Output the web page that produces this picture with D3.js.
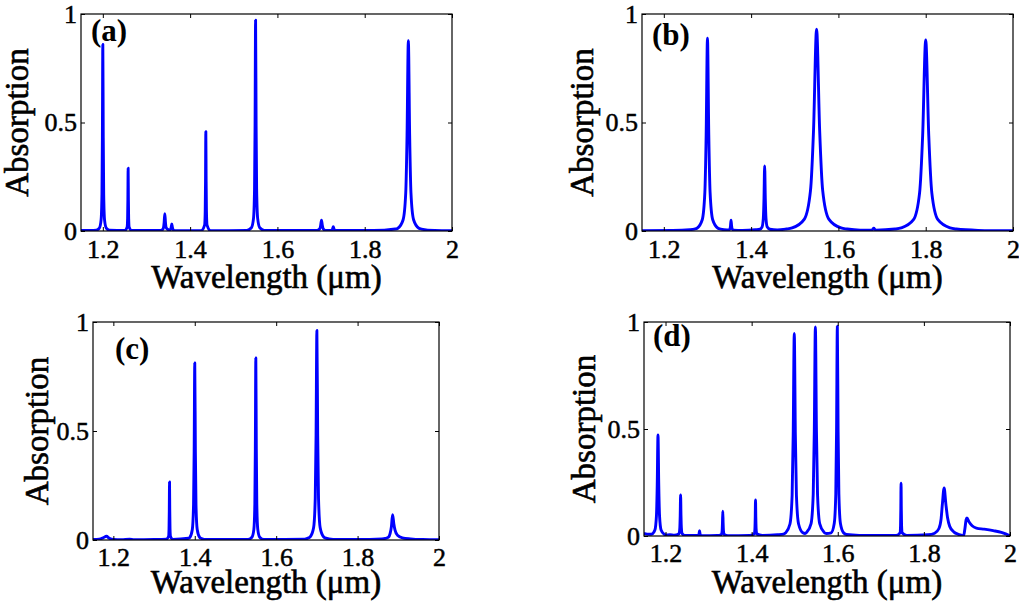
<!DOCTYPE html>
<html>
<head>
<meta charset="utf-8">
<script src="https://cdn.jsdelivr.net/npm/d3@7"></script>
<style>
  body { margin: 0; background: #fff; }
  svg { display: block; }
</style>
</head>
<body>
<svg id="fig" width="1019" height="604"></svg>
<script>
// tick values / labels shared by all four panels
var xTicks = [1.2, 1.4, 1.6, 1.8, 2];
var xTickLabels = ["1.2", "1.4", "1.6", "1.8", "2"];
var yTicks = [0, 0.5, 1];
var yTickLabels = ["0", "0.5", "1"];
var panelNames = ["(a)", "(b)", "(c)", "(d)"];
var xTitle = "Wavelength (\u03bcm)";
var yTitle = "Absorption";

// spectra: [wavelength (um), absorption]
var spectrumA = [
  [1.15,0.002],[1.185,0.004],[1.192,0.013],[1.196,0.05],[1.198,0.17],[1.199,0.43],[1.2,0.86],[1.201,0.43],[1.202,0.17],[1.204,0.05],[1.208,0.013],[1.215,0.004],
  [1.25,0.002],[1.2556,0.017],[1.2568,0.058],[1.2574,0.145],[1.258,0.289],[1.2586,0.145],[1.2592,0.058],[1.2604,0.017],[1.266,0.002],
  [1.33,0.002],[1.336,0.005],[1.339,0.016],[1.3405,0.04],[1.342,0.08],[1.3435,0.04],[1.345,0.016],[1.348,0.008],
  [1.352,0.005],[1.355,0.0064],[1.3565,0.016],[1.358,0.032],[1.3595,0.016],[1.361,0.0064],[1.364,0.002],[1.37,0.001],
  [1.425,0.001],[1.4332,0.027],[1.4346,0.092],[1.4353,0.229],[1.436,0.458],[1.4367,0.229],[1.4374,0.092],[1.4388,0.027],[1.447,0.001],
  [1.53,0.003],[1.5404,0.015],[1.5452,0.057],[1.5476,0.194],[1.5488,0.486],[1.55,0.972],[1.5512,0.486],[1.5524,0.194],[1.5548,0.057],[1.5596,0.015],[1.57,0.003],
  [1.69,0.002],[1.697,0.01],[1.699,0.025],[1.701,0.05],[1.703,0.025],[1.705,0.01],[1.71,0.003],
  [1.722,0.002],[1.725,0.004],[1.7265,0.01],[1.728,0.02],[1.7295,0.01],[1.731,0.004],[1.74,0.002],
  [1.82,0.002],[1.87,0.009],[1.876,0.013],[1.888,0.052],[1.894,0.175],[1.897,0.44],[1.9,0.877],[1.903,0.44],[1.906,0.175],[1.912,0.052],[1.924,0.013],[1.93,0.009],[1.96,0.002],[2.0,0.001]
];
var spectrumB = [
  [1.15,0.001],[1.22,0.002],[1.26,0.006],
  [1.27,0.009],[1.276,0.013],[1.288,0.052],[1.294,0.178],[1.297,0.444],[1.3,0.888],[1.303,0.444],[1.306,0.178],[1.312,0.052],[1.324,0.013],[1.33,0.009],[1.345,0.005],
  [1.35,0.006],[1.3516,0.01],[1.3528,0.025],[1.354,0.05],[1.3552,0.025],[1.3564,0.01],[1.36,0.004],[1.38,0.003],[1.41,0.006],
  [1.42,0.008],[1.425,0.018],[1.428,0.06],[1.4295,0.15],[1.431,0.3],[1.4325,0.15],[1.434,0.06],[1.437,0.018],[1.443,0.008],[1.46,0.005],
  [1.48,0.009],[1.494,0.014],[1.522,0.055],[1.536,0.186],[1.543,0.465],[1.55,0.93],[1.557,0.465],[1.564,0.186],[1.578,0.055],[1.606,0.014],[1.62,0.009],[1.65,0.004],
  [1.676,0.004],[1.678,0.006],[1.681,0.013],[1.684,0.006],[1.686,0.004],
  [1.73,0.009],[1.744,0.014],[1.772,0.052],[1.786,0.176],[1.793,0.44],[1.8,0.88],[1.807,0.44],[1.814,0.176],[1.828,0.052],[1.856,0.014],[1.87,0.009],[1.92,0.003],[2.0,0.001]
];
var spectrumC = [
  [1.15,0.003],[1.165,0.004],[1.175,0.01],[1.183,0.017],[1.19,0.008],[1.2,0.002],[1.22,0.001],[1.24,0.004],[1.25,0.001],[1.3,0.002],[1.33,0.004],
  [1.3356,0.016],[1.3368,0.053],[1.3374,0.133],[1.338,0.266],[1.3386,0.133],[1.3392,0.053],[1.3404,0.016],[1.346,0.003],
  [1.385,0.008],[1.388,0.012],[1.394,0.048],[1.397,0.162],[1.3985,0.406],[1.4,0.812],[1.4015,0.406],[1.403,0.162],[1.406,0.048],[1.412,0.012],[1.415,0.008],[1.43,0.002],
  [1.53,0.002],[1.5404,0.013],[1.5452,0.049],[1.5476,0.167],[1.5488,0.418],[1.55,0.835],[1.5512,0.418],[1.5524,0.167],[1.5548,0.049],[1.5596,0.013],[1.57,0.002],
  [1.67,0.004],[1.68,0.01],[1.684,0.015],[1.692,0.057],[1.696,0.192],[1.698,0.48],[1.7,0.961],[1.702,0.48],[1.704,0.192],[1.708,0.057],[1.716,0.015],[1.72,0.01],[1.74,0.003],[1.8,0.002],[1.86,0.005],
  [1.868,0.007],[1.876,0.013],[1.88,0.03],[1.883,0.06],[1.886,0.116],[1.889,0.075],[1.892,0.045],[1.898,0.022],[1.91,0.01],[1.93,0.005],[1.96,0.002],[2.0,0.001]
];
var spectrumD = [
  [1.15,0.012],[1.157,0.009],[1.1645,0.008],[1.1681,0.009],[1.1753,0.028],[1.1789,0.094],[1.1807,0.236],[1.1825,0.472],[1.1843,0.236],[1.1861,0.094],[1.1897,0.028],[1.1969,0.008],[1.2005,0.005],[1.21,0.006],[1.22,0.004],
  [1.2314,0.011],[1.2332,0.038],[1.2341,0.096],[1.235,0.192],[1.2359,0.096],[1.2368,0.038],[1.2386,0.011],[1.245,0.002],
  [1.275,0.002],[1.277,0.005],[1.278,0.012],[1.279,0.025],[1.28,0.012],[1.281,0.005],[1.285,0.001],
  [1.32,0.002],[1.3298,0.007],[1.3314,0.023],[1.3322,0.058],[1.333,0.116],[1.3338,0.058],[1.3346,0.023],[1.3362,0.007],[1.345,0.001],
  [1.395,0.002],[1.4062,0.01],[1.4076,0.034],[1.4083,0.085],[1.409,0.169],[1.4097,0.085],[1.4104,0.034],[1.4118,0.01],[1.425,0.003],
  [1.46,0.006],[1.474,0.009],[1.479,0.015],[1.489,0.056],[1.494,0.189],[1.4965,0.473],[1.499,0.946],[1.5015,0.473],[1.504,0.189],[1.509,0.056],[1.519,0.015],[1.524,0.012],
  [1.528,0.018],[1.538,0.058],[1.543,0.195],[1.5455,0.489],[1.548,0.977],[1.5505,0.489],[1.553,0.195],[1.558,0.058],[1.568,0.018],[1.5738,0.012],
  [1.5846,0.015],[1.5918,0.058],[1.5954,0.196],[1.5972,0.49],[1.599,0.98],[1.6008,0.49],[1.6026,0.196],[1.6062,0.058],[1.6134,0.015],[1.62,0.007],[1.65,0.003],[1.72,0.002],
  [1.735,0.002],[1.7446,0.015],[1.7458,0.049],[1.7464,0.124],[1.747,0.247],[1.7476,0.124],[1.7482,0.049],[1.7494,0.015],[1.76,0.003],
  [1.81,0.006],[1.825,0.013],[1.835,0.035],[1.84,0.08],[1.843,0.15],[1.847,0.224],[1.851,0.15],[1.855,0.085],[1.86,0.045],[1.87,0.018],[1.88,0.008],[1.888,0.003],[1.892,0.0],
  [1.895,0.03],[1.898,0.075],[1.9,0.084],[1.905,0.065],[1.912,0.048],[1.922,0.037],[1.94,0.032],[1.961,0.025],[1.98,0.017],[1.99,0.01],[2.0,0.001]
];

var spectra = [spectrumA, spectrumB, spectrumC, spectrumD];

var serif = "'Times New Roman', 'Liberation Serif', Tinos, serif";

// layout of each axes box (left, top, right, bottom) and where the titles sit
var layout = [
  {box:[81,14,452,231],  ylab:53, xlab:57, pad:9, tag:[91,41]},
  {box:[642,14,1013,231], ylab:49, xlab:57, pad:9, tag:[652,45]},
  {box:[93,322,439,540], ylab:45, xlab:53, pad:8, tag:[115,359]},
  {box:[644,322,1010,536], ylab:49, xlab:57, pad:8, tag:[653,346]}
];

var svg = d3.select("#fig");
svg.append("rect").attr("width",1019).attr("height",604).attr("fill","#fff");

layout.forEach(function(L, i){
    var l = L.box[0], t = L.box[1], r = L.box[2], b = L.box[3];
    var w = r - l, h = b - t;
    var x = d3.scaleLinear().domain([1.15, 2]).range([0, w]);
    var y = d3.scaleLinear().domain([0, 1]).range([h, 0]);
    var g = svg.append("g").attr("transform", "translate(" + l + "," + t + ")");

    g.append("clipPath").attr("id", "clip" + i)
      .append("rect").attr("width", w).attr("height", h);

    var line = d3.line()
        .x(function(d){ return x(d[0]); })
        .y(function(d){ return y(d[1]); })
        .curve(d3.curveMonotoneX);

    g.append("path").datum(spectra[i])
      .attr("clip-path", "url(#clip" + i + ")")
      .attr("fill", "none")
      .attr("stroke", "#0000ff")
      .attr("stroke-width", 2.9)
      .attr("stroke-linejoin", "round")
      .attr("d", line);

    // axes, ticks pointing inwards like matlab
    g.append("g").attr("transform", "translate(0," + h + ")")
      .call(d3.axisBottom(x).tickValues(xTicks).tickSize(-4).tickPadding(L.pad)
            .tickFormat(function(d, k){ return xTickLabels[k]; }));
    g.append("g")
      .call(d3.axisLeft(y).tickValues(yTicks).tickSize(-4).tickPadding(4)
            .tickFormat(function(d, k){ return yTickLabels[k]; }));
    g.append("g").call(d3.axisTop(x).tickValues(xTicks).tickSize(-4).tickFormat(""));
    g.append("g").attr("transform", "translate(" + w + ",0)")
      .call(d3.axisRight(y).tickValues(yTicks).tickSize(-4).tickFormat(""));

    g.selectAll(".domain").remove();
    g.selectAll("g").attr("font-family", serif);
    g.selectAll(".tick line").attr("stroke", "#000").attr("stroke-width", 1);
    g.selectAll(".tick text").attr("font-size", 26).attr("fill", "#000")
      .attr("font-family", serif)
      .attr("stroke", "#000").attr("stroke-width", 0.5);

    g.append("rect").attr("width", w).attr("height", h)
      .attr("fill", "none").attr("stroke", "#000").attr("stroke-width", 1.2);

    g.append("text")
      .attr("x", w / 2).attr("y", h + L.xlab)
      .attr("text-anchor", "middle").attr("font-size", 33)
      .attr("font-family", serif)
      .attr("stroke", "#000").attr("stroke-width", 0.6)
      .text(xTitle);

    g.append("text")
      .attr("transform", "translate(" + (-L.ylab) + "," + (h / 2) + ") rotate(-90)")
      .attr("text-anchor", "middle").attr("font-size", 33)
      .attr("font-family", serif)
      .attr("stroke", "#000").attr("stroke-width", 0.6)
      .text(yTitle);

    svg.append("text")
      .attr("x", L.tag[0]).attr("y", L.tag[1])
      .attr("font-size", 31).attr("font-weight", "bold")
      .attr("font-family", serif)
      .text(panelNames[i]);
});
</script>
</body>
</html>
